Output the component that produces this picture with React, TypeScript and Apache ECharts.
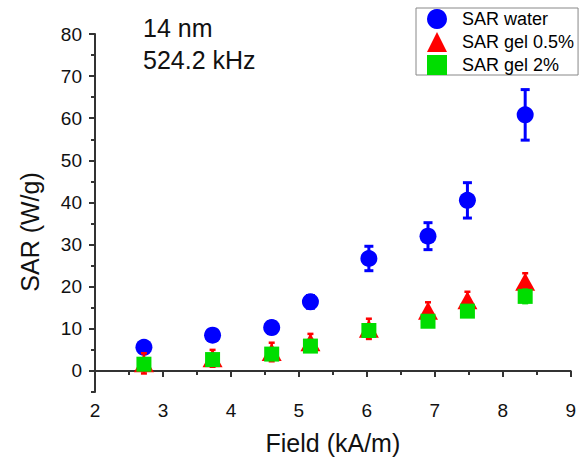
import React, { useEffect, useRef } from "react";
import * as echarts from "echarts";

const fieldX = [2.72, 3.73, 4.6, 5.17, 6.03, 6.9, 7.48, 8.33];
const water = [5.6, 8.5, 10.3, 16.4, 26.7, 32.0, 40.5, 60.8];
const waterErr = [1.0, 1.3, 1.4, 1.5, 2.9, 3.2, 4.2, 6.0];
const gel05 = [1.8, 3.0, 4.5, 6.8, 10.0, 14.3, 16.8, 21.2];
const gel05Err = [2.4, 2.0, 2.2, 2.0, 2.4, 2.0, 2.0, 2.0];
const gel2 = [1.6, 2.7, 4.0, 5.9, 9.6, 11.8, 14.2, 17.7];
const gel2Err = [0.8, 0.8, 0.8, 0.9, 1.0, 1.2, 1.3, 1.6];
const xTicks = [2, 3, 4, 5, 6, 7, 8, 9];
const yMajor = [0, 10, 20, 30, 40, 50, 60, 70, 80];
const yMinor = [-5, 5, 15, 25, 35, 45, 55, 65, 75];
const seriesNames = ["SAR water", "SAR gel 0.5%", "SAR gel 2%"];

const FONT = "Liberation Sans, Arial, sans-serif";

function errSeries(vals: number[], errs: number[], color: string, capW: number, lw: number, z: number) {
  return {
    type: "custom",
    silent: true,
    z,
    data: fieldX.map((x, i) => [x, vals[i] - errs[i], vals[i] + errs[i]]),
    encode: { x: 0, y: [1, 2] },
    renderItem: (params: any, api: any) => {
      const x = api.value(0);
      const lo = api.coord([x, api.value(1)]);
      const hi = api.coord([x, api.value(2)]);
      const style = { stroke: color, lineWidth: lw };
      return {
        type: "group",
        children: [
          { type: "line", shape: { x1: lo[0], y1: lo[1], x2: hi[0], y2: hi[1] }, style },
          { type: "line", shape: { x1: lo[0] - capW / 2, y1: lo[1], x2: lo[0] + capW / 2, y2: lo[1] }, style },
          { type: "line", shape: { x1: hi[0] - capW / 2, y1: hi[1], x2: hi[0] + capW / 2, y2: hi[1] }, style },
        ],
      };
    },
  };
}

export default function App() {
  const ref = useRef<HTMLDivElement>(null);
  useEffect(() => {
    const chart = echarts.init(ref.current!, null, { renderer: "svg" });
    const axisLine = { show: true, lineStyle: { color: "#333", width: 2 } };
    chart.setOption({
      animation: false,
      backgroundColor: "#fff",
      grid: { left: 95, right: 6, top: 34, bottom: 65, containLabel: false },
      legend: {
        data: seriesNames,
        orient: "vertical",
        left: 416,
        top: 8,
        itemWidth: 20,
        itemHeight: 20,
        itemGap: 3,
        padding: [1, 4, 0, 11],
        borderColor: "#888",
        borderWidth: 1,
        textStyle: { fontFamily: FONT, fontSize: 18, color: "#000", padding: [0, 0, 0, 10] },
      },
      xAxis: {
        type: "value",
        min: 2,
        max: 9,
        interval: 1,
        name: "Field (kA/m)",
        nameLocation: "middle",
        nameGap: 38,
        nameTextStyle: { fontFamily: FONT, fontSize: 25, color: "#111" },
        axisLine,
        axisTick: { show: true, length: 6, lineStyle: { color: "#333", width: 2 } },
        minorTick: { show: true, splitNumber: 2, length: 4, lineStyle: { color: "#333", width: 2 } },
        axisLabel: { fontFamily: FONT, fontSize: 19, color: "#111", margin: 9, customValues: xTicks },
        splitLine: { show: false },
      },
      yAxis: [
        {
          type: "value",
          min: -5,
          max: 80,
          axisLine,
          axisTick: { show: true, length: 6, customValues: yMajor, lineStyle: { color: "#333", width: 2 } },
          axisLabel: { fontFamily: FONT, fontSize: 19, color: "#111", margin: 13, customValues: yMajor },
          splitLine: { show: false },
        },
        {
          type: "value",
          min: -5,
          max: 80,
          position: "left",
          axisLine: { show: false },
          axisTick: { show: true, length: 4, customValues: yMinor, lineStyle: { color: "#333", width: 2 } },
          axisLabel: { show: false },
          splitLine: { show: false },
        },
      ],
      graphic: [
        {
          type: "text",
          x: 143,
          y: 15,
          style: { text: "14 nm", fontFamily: FONT, fontSize: 25, fill: "#111", textVerticalAlign: "top" },
        },
        {
          type: "text",
          x: 143,
          y: 47,
          style: { text: "524.2 kHz", fontFamily: FONT, fontSize: 25, fill: "#111", textVerticalAlign: "top" },
        },
        {
          type: "text",
          x: 30,
          y: 232,
          rotation: Math.PI / 2,
          style: {
            text: "SAR (W/g)",
            fontFamily: FONT,
            fontSize: 25,
            fill: "#111",
            textAlign: "center",
            textVerticalAlign: "middle",
          },
        },
      ],
      series: [
        errSeries(water, waterErr, "#0000ff", 9, 3, 2),
        {
          name: seriesNames[0],
          type: "scatter",
          z: 3,
          symbol: "circle",
          symbolSize: 17,
          itemStyle: { color: "#0000ff", opacity: 1 },
          data: fieldX.map((x, i) => [x, water[i]]),
        },
        errSeries(gel05, gel05Err, "#ff0000", 6, 2.5, 4),
        {
          name: seriesNames[1],
          type: "scatter",
          z: 5,
          symbol: "triangle",
          symbolSize: [20, 18],
          itemStyle: { color: "#ff0000", opacity: 1 },
          data: fieldX.map((x, i) => [x, gel05[i]]),
        },
        errSeries(gel2, gel2Err, "#00dd00", 6, 2.5, 6),
        {
          name: seriesNames[2],
          type: "scatter",
          z: 7,
          symbol: "rect",
          symbolSize: 15,
          itemStyle: { color: "#00dd00", opacity: 1 },
          data: fieldX.map((x, i) => [x, gel2[i]]),
        },
      ],
    });
    return () => chart.dispose();
  }, []);
  return <div ref={ref} style={{ width: 579, height: 460, position: "absolute", left: 0, top: 0 }} />;
}
